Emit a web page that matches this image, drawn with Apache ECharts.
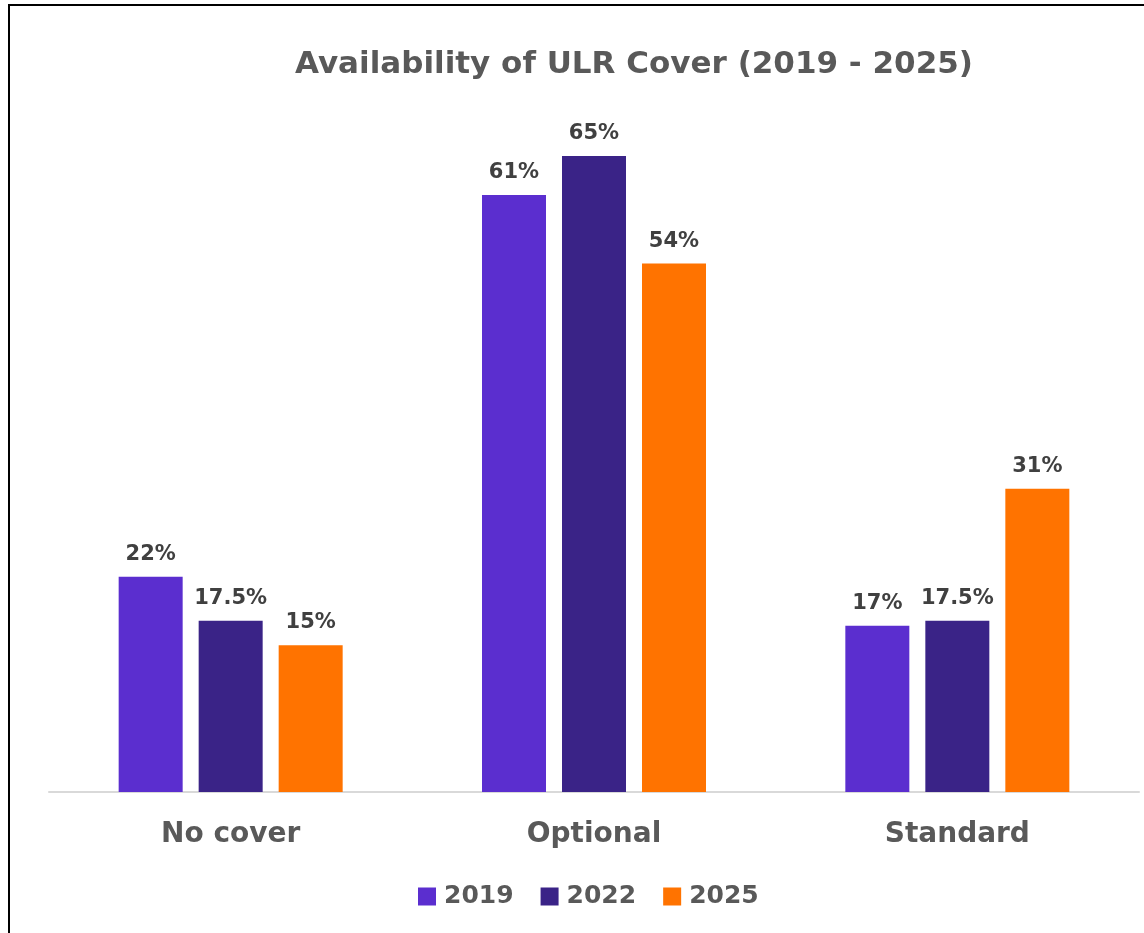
<!DOCTYPE html>
<html>
<head>
<meta charset="utf-8">
<script src="https://cdn.jsdelivr.net/npm/echarts@6/dist/echarts.min.js"></script>
<style>
html,body{margin:0;padding:0;background:#fff;}
#chart{width:1144px;height:933px;}
</style>
</head>
<body>
<div id="chart"></div>
<script>
const categories = ['No cover', 'Optional', 'Standard'];
const seriesNames = ['2019', '2022', '2025'];
const values2019 = [22, 61, 17];
const values2022 = [17.5, 65, 17.5];
const values2025 = [15, 54, 31];
const colors = ['#5B2ECF', '#3A2387', '#FF7300'];

const FONT = '"DejaVu Sans", sans-serif';
const chart = echarts.init(document.getElementById('chart'));

function mk(name, data, color) {
  return {
    name: name,
    type: 'bar',
    data: data,
    barWidth: 64,
    barGap: '25%',
    itemStyle: { color: color },
    label: {
      show: true,
      position: 'top',
      distance: 12,
      formatter: p => p.value + '%',
      color: '#404040',
      fontFamily: FONT,
      fontWeight: 'bold',
      fontSize: 21
    }
  };
}

chart.setOption({
  animation: false,
  backgroundColor: '#fff',
  color: colors,
  title: {
    text: 'Availability of ULR Cover (2019 - 2025)',
    left: 629,
    textAlign: 'center',
    top: 44,
    textStyle: { color: '#595959', fontFamily: FONT, fontWeight: 'bold', fontSize: 31 }
  },
  legend: {
    data: seriesNames,
    left: 418,
    top: 884,
    padding: 0,
    itemWidth: 18,
    itemHeight: 18,
    itemGap: 27,
    icon: 'rect',
    textStyle: { color: '#595959', fontFamily: FONT, fontWeight: 'bold', fontSize: 25, padding: [0, 0, 0, 3] }
  },
  grid: { left: 49, right: 5, top: 107, height: 685, containLabel: false },
  xAxis: {
    type: 'category',
    data: categories,
    axisLine: { lineStyle: { color: '#D9D9D9', width: 2 } },
    axisTick: { show: false },
    axisLabel: { color: '#595959', fontFamily: FONT, fontWeight: 'bold', fontSize: 28, margin: 29 }
  },
  yAxis: {
    type: 'value',
    min: 0,
    max: 70,
    show: false,
    splitLine: { show: false }
  },
  graphic: [{
    type: 'rect',
    shape: { x: 9, y: 5, width: 1160, height: 960 },
    style: { fill: 'none', stroke: '#000', lineWidth: 2 },
    silent: true
  }],
  series: [
    mk(seriesNames[0], values2019, colors[0]),
    mk(seriesNames[1], values2022, colors[1]),
    mk(seriesNames[2], values2025, colors[2])
  ]
});
</script>
</body>
</html>
